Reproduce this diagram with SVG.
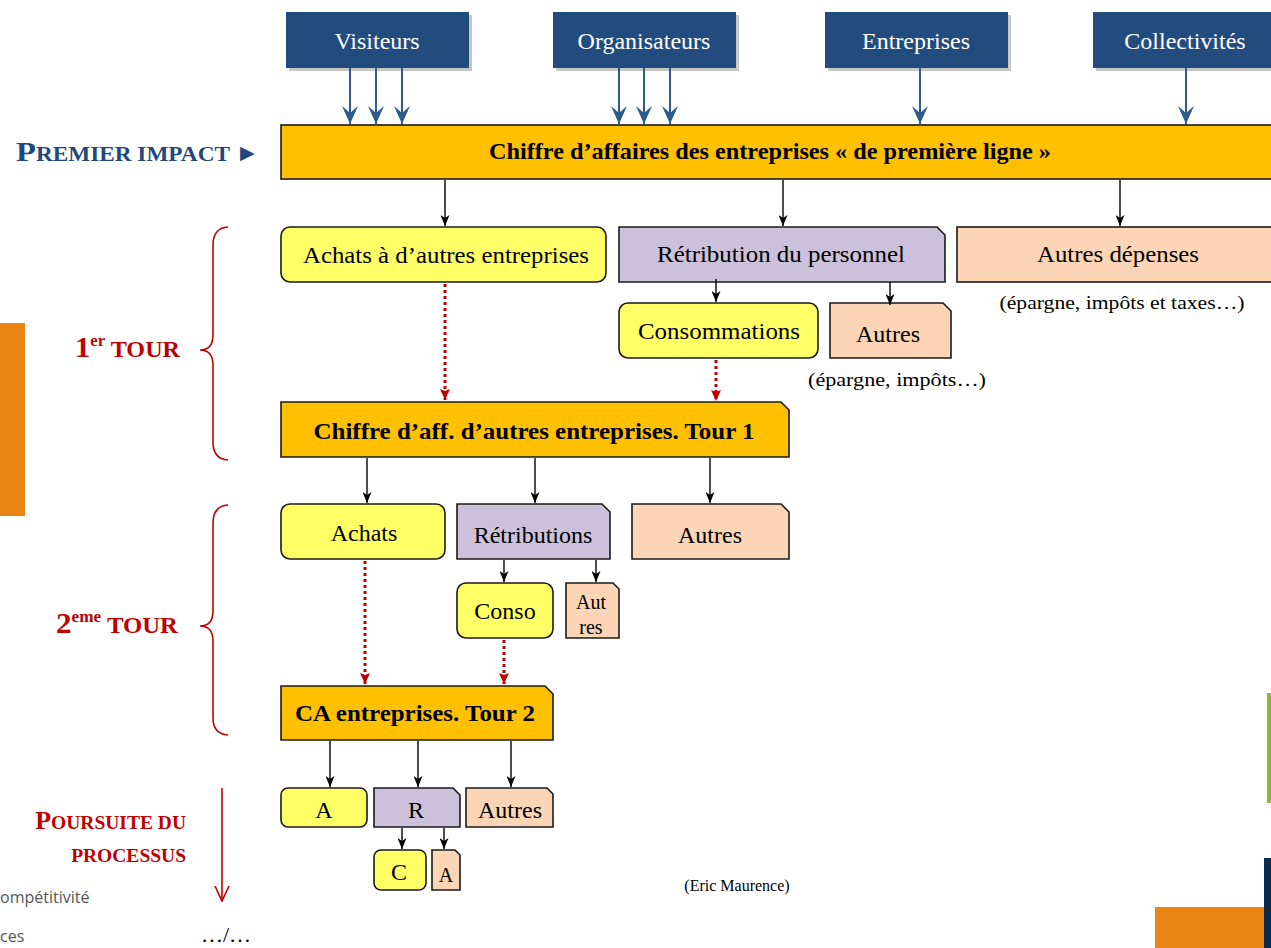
<svg xmlns="http://www.w3.org/2000/svg" width="1271" height="948" viewBox="0 0 1271 948">
<style>
.t{font-family:"Liberation Serif","Times New Roman",serif;fill:#000;text-anchor:middle}
.l{font-size:24px}
.b{font-size:24px;font-weight:bold}
.s{font-size:19px}
.w{font-family:"Liberation Serif","Times New Roman",serif;font-size:24px;fill:#fff;text-anchor:middle}
.blue{fill:#234C7E}
.sh{fill:#000;opacity:0.22}
.box{stroke:#1a1a1a;stroke-width:1.6}
.y{fill:#FFFF66}
.o{fill:#FFC000}
.p{fill:#CCC1DA}
.k{fill:#FBD5B5}
.red{font-family:"Liberation Serif","Times New Roman",serif;font-weight:bold;fill:#C00000}
.ba{stroke:#2E5A8E;stroke-width:2;fill:none}
.bl{stroke:#000;stroke-width:1.4;fill:none}
.rd{stroke:#C00000;stroke-width:3;stroke-dasharray:3 3;fill:none}
.br{stroke:#C00000;stroke-width:1.6;fill:none}
</style>
<defs>
<marker id="mb" markerUnits="userSpaceOnUse" viewBox="0 0 18 16" markerWidth="18" markerHeight="16" refX="18" refY="8" orient="auto"><path d="M0,0 L18,8 L0,16 L7,8 Z" fill="#2E5A8E"/></marker>
<marker id="mk" markerUnits="userSpaceOnUse" viewBox="0 0 11 9" markerWidth="11" markerHeight="9" refX="11" refY="4.5" orient="auto"><path d="M0,0 L11,4.5 L0,9 L3,4.5 Z" fill="#000"/></marker>
<marker id="mr" markerUnits="userSpaceOnUse" viewBox="0 0 11 10" markerWidth="11" markerHeight="10" refX="11" refY="5" orient="auto"><path d="M0,0 L11,5 L0,10 L2,5 Z" fill="#C00000"/></marker>
<marker id="mo" markerUnits="userSpaceOnUse" viewBox="0 0 16 16" markerWidth="16" markerHeight="16" refX="15" refY="8" orient="auto"><path d="M0,1 L15,8 L0,15" fill="none" stroke="#C00000" stroke-width="1.6"/></marker>
</defs>
<rect width="1271" height="948" fill="#fff"/>

<!-- decorative fragments -->
<g id="decor">
<rect x="0" y="323" width="25" height="193" fill="#EA8515"/>
<rect x="1267" y="693" width="4" height="110" fill="#8DB92E"/>
<rect x="1264" y="858" width="7" height="90" fill="#0F2B4B"/>
<rect x="1155" y="907" width="109" height="41" fill="#EA8515"/>
<text x="0" y="903" font-family="'Open Sans','Noto Sans',sans-serif" font-size="16" fill="#555">ompétitivité</text>
<text x="0" y="942" font-family="'Open Sans','Noto Sans',sans-serif" font-size="16" fill="#555">ces</text>
</g>

<!-- source nodes -->
<g id="n-visiteurs"><rect class="sh" x="289" y="15" width="183" height="56"/><rect class="blue" x="286" y="12" width="183" height="56"/><text class="w" x="377" y="49">Visiteurs</text></g>
<g id="n-organisateurs"><rect class="sh" x="556" y="15" width="183" height="56"/><rect class="blue" x="553" y="12" width="183" height="56"/><text class="w" x="644" y="49">Organisateurs</text></g>
<g id="n-entreprises"><rect class="sh" x="828" y="15" width="183" height="56"/><rect class="blue" x="825" y="12" width="183" height="56"/><text class="w" x="916" y="49">Entreprises</text></g>
<g id="n-collectivites"><rect class="sh" x="1096" y="15" width="183" height="56"/><rect class="blue" x="1093" y="12" width="183" height="56"/><text class="w" x="1185" y="49">Collectivités</text></g>

<!-- main -->
<g id="n-premier">
<rect class="box o" x="281" y="125" width="995" height="54"/>
<text class="t b" x="770" y="159" textLength="562" lengthAdjust="spacingAndGlyphs">Chiffre d’affaires des entreprises « de première ligne »</text>
</g>
<g id="lbl-premier">
<text x="16" y="161" font-family="'Liberation Serif','Times New Roman',serif" font-weight="bold" fill="#1F497D" textLength="214" lengthAdjust="spacingAndGlyphs"><tspan font-size="28">P</tspan><tspan font-size="20">REMIER IMPACT</tspan></text>
<text x="240" y="159" font-family="'DejaVu Sans',sans-serif" font-size="19" fill="#1F497D">▶</text>
</g>

<!-- tour 1 -->
<g id="n-achats1"><rect class="box y" x="281" y="227" width="325" height="55" rx="9"/><text class="t l" x="446" y="263" textLength="286" lengthAdjust="spacingAndGlyphs">Achats à d’autres entreprises</text></g>
<g id="n-retrib1"><path class="box p" d="M619,227 H937 L945,235 V282 H619 Z"/><text class="t l" x="781" y="262" textLength="248" lengthAdjust="spacingAndGlyphs">Rétribution du personnel</text></g>
<g id="n-autresdep"><rect class="box k" x="957" y="227" width="320" height="55"/><text class="t l" x="1118" y="262" textLength="162" lengthAdjust="spacingAndGlyphs">Autres dépenses</text><text class="t s" x="1122" y="309" textLength="245" lengthAdjust="spacingAndGlyphs">(épargne, impôts et taxes…)</text></g>
<g id="n-conso1"><rect class="box y" x="619" y="303" width="199" height="55" rx="9"/><text class="t l" x="719" y="339" textLength="162" lengthAdjust="spacingAndGlyphs">Consommations</text></g>
<g id="n-autres1"><path class="box k" d="M830,303 H943 L951,311 V358 H830 Z"/><text class="t l" x="888" y="342">Autres</text><text class="t s" x="897" y="386" textLength="178" lengthAdjust="spacingAndGlyphs">(épargne, impôts…)</text></g>
<g id="n-tour1"><path class="box o" d="M281,402 H781 L789,410 V457 H281 Z"/><text class="t b" x="534" y="439" textLength="441" lengthAdjust="spacingAndGlyphs">Chiffre d’aff. d’autres entreprises.  Tour 1</text></g>

<!-- tour 2 -->
<g id="n-achats2"><rect class="box y" x="281" y="504" width="164" height="55" rx="9"/><text class="t l" x="364" y="541">Achats</text></g>
<g id="n-retrib2"><path class="box p" d="M457,504 H602 L610,512 V559 H457 Z"/><text class="t l" x="533" y="543">Rétributions</text></g>
<g id="n-autres2"><path class="box k" d="M632,504 H781 L789,512 V559 H632 Z"/><text class="t l" x="710" y="543">Autres</text></g>
<g id="n-conso2"><rect class="box y" x="457" y="583" width="96" height="55" rx="9"/><text class="t l" x="505" y="619">Conso</text></g>
<g id="n-autres2b"><path class="box k" d="M566,583 H613 L619,589 V638 H566 Z"/><text class="t" x="591" y="609" font-size="20">Aut</text><text class="t" x="591" y="634" font-size="20">res</text></g>
<g id="n-tour2"><path class="box o" d="M281,686 H545 L553,694 V740 H281 Z"/><text class="t b" x="415" y="721" textLength="240" lengthAdjust="spacingAndGlyphs">CA entreprises. Tour 2</text></g>

<!-- suite -->
<g id="n-a3"><rect class="box y" x="281" y="788" width="86" height="39" rx="7"/><text class="t l" x="324" y="818">A</text></g>
<g id="n-r3"><path class="box p" d="M374,788 H453 L460,795 V827 H374 Z"/><text class="t l" x="416" y="818">R</text></g>
<g id="n-autres3"><path class="box k" d="M466,788 H547 L553,794 V827 H466 Z"/><text class="t l" x="510" y="818">Autres</text></g>
<g id="n-c4"><rect class="box y" x="374" y="850" width="52" height="40" rx="7"/><text class="t l" x="399" y="880">C</text></g>
<g id="n-a4"><path class="box k" d="M432,850 H455 L460,855 V890 H432 Z"/><text class="t" x="446" y="882" font-size="20">A</text></g>

<!-- left labels -->
<g id="lbl-tours">
<text class="red" x="75" y="357" textLength="105" lengthAdjust="spacingAndGlyphs"><tspan font-size="29">1</tspan><tspan font-size="16" dy="-11">er</tspan><tspan font-size="23" dy="11"> TOUR</tspan></text>
<text class="red" x="56" y="633" textLength="122" lengthAdjust="spacingAndGlyphs"><tspan font-size="29">2</tspan><tspan font-size="16" dy="-11">eme</tspan><tspan font-size="23" dy="11"> TOUR</tspan></text>
<text class="red" x="186" y="829" text-anchor="end"><tspan font-size="26">P</tspan><tspan font-size="19.5">OURSUITE DU</tspan></text>
<text class="red" x="186" y="862" text-anchor="end" font-size="19.5">PROCESSUS</text>
<path class="br" d="M228,227 Q213,228 213,245 L213,335 Q213,350 200,350 Q213,350 213,365 L213,442 Q213,459 228,460"/>
<path class="br" d="M228,505 Q213,506 213,523 L213,611 Q213,626 200,626 Q213,626 213,641 L213,718 Q213,734 228,735"/>
<text class="t" x="226" y="942" font-size="22">…/…</text>
<text class="t" x="737" y="891" font-size="16">(Eric Maurence)</text>
</g>

<!-- connectors -->
<g id="connectors">
<line class="ba" x1="350" y1="68" x2="350" y2="124" marker-end="url(#mb)"/>
<line class="ba" x1="376" y1="68" x2="376" y2="124" marker-end="url(#mb)"/>
<line class="ba" x1="402" y1="68" x2="402" y2="124" marker-end="url(#mb)"/>
<line class="ba" x1="619" y1="68" x2="619" y2="124" marker-end="url(#mb)"/>
<line class="ba" x1="644" y1="68" x2="644" y2="124" marker-end="url(#mb)"/>
<line class="ba" x1="670" y1="68" x2="670" y2="124" marker-end="url(#mb)"/>
<line class="ba" x1="920" y1="68" x2="920" y2="124" marker-end="url(#mb)"/>
<line class="ba" x1="1186" y1="68" x2="1186" y2="124" marker-end="url(#mb)"/>

<line class="bl" x1="445" y1="180" x2="445" y2="226" marker-end="url(#mk)"/>
<line class="bl" x1="783" y1="180" x2="783" y2="226" marker-end="url(#mk)"/>
<line class="bl" x1="1120" y1="180" x2="1120" y2="226" marker-end="url(#mk)"/>
<line class="bl" x1="716" y1="279" x2="716" y2="302" marker-end="url(#mk)"/>
<line class="bl" x1="890" y1="282" x2="890" y2="305" marker-end="url(#mk)"/>

<line class="bl" x1="367" y1="458" x2="367" y2="503" marker-end="url(#mk)"/>
<line class="bl" x1="535" y1="458" x2="535" y2="503" marker-end="url(#mk)"/>
<line class="bl" x1="710" y1="458" x2="710" y2="503" marker-end="url(#mk)"/>
<line class="bl" x1="504" y1="560" x2="504" y2="582" marker-end="url(#mk)"/>
<line class="bl" x1="596" y1="560" x2="596" y2="582" marker-end="url(#mk)"/>

<line class="bl" x1="330" y1="741" x2="330" y2="787" marker-end="url(#mk)"/>
<line class="bl" x1="418" y1="741" x2="418" y2="787" marker-end="url(#mk)"/>
<line class="bl" x1="511" y1="741" x2="511" y2="787" marker-end="url(#mk)"/>
<line class="bl" x1="402" y1="828" x2="402" y2="849" marker-end="url(#mk)"/>
<line class="bl" x1="444" y1="828" x2="444" y2="849" marker-end="url(#mk)"/>

<line class="rd" x1="445" y1="284" x2="445" y2="400" marker-end="url(#mr)"/>
<line class="rd" x1="716" y1="360" x2="716" y2="401" marker-end="url(#mr)"/>
<line class="rd" x1="365" y1="561" x2="365" y2="684" marker-end="url(#mr)"/>
<line class="rd" x1="504" y1="640" x2="504" y2="684" marker-end="url(#mr)"/>

<line class="br" x1="222" y1="788" x2="222" y2="901" marker-end="url(#mo)"/>
</g>
</svg>
